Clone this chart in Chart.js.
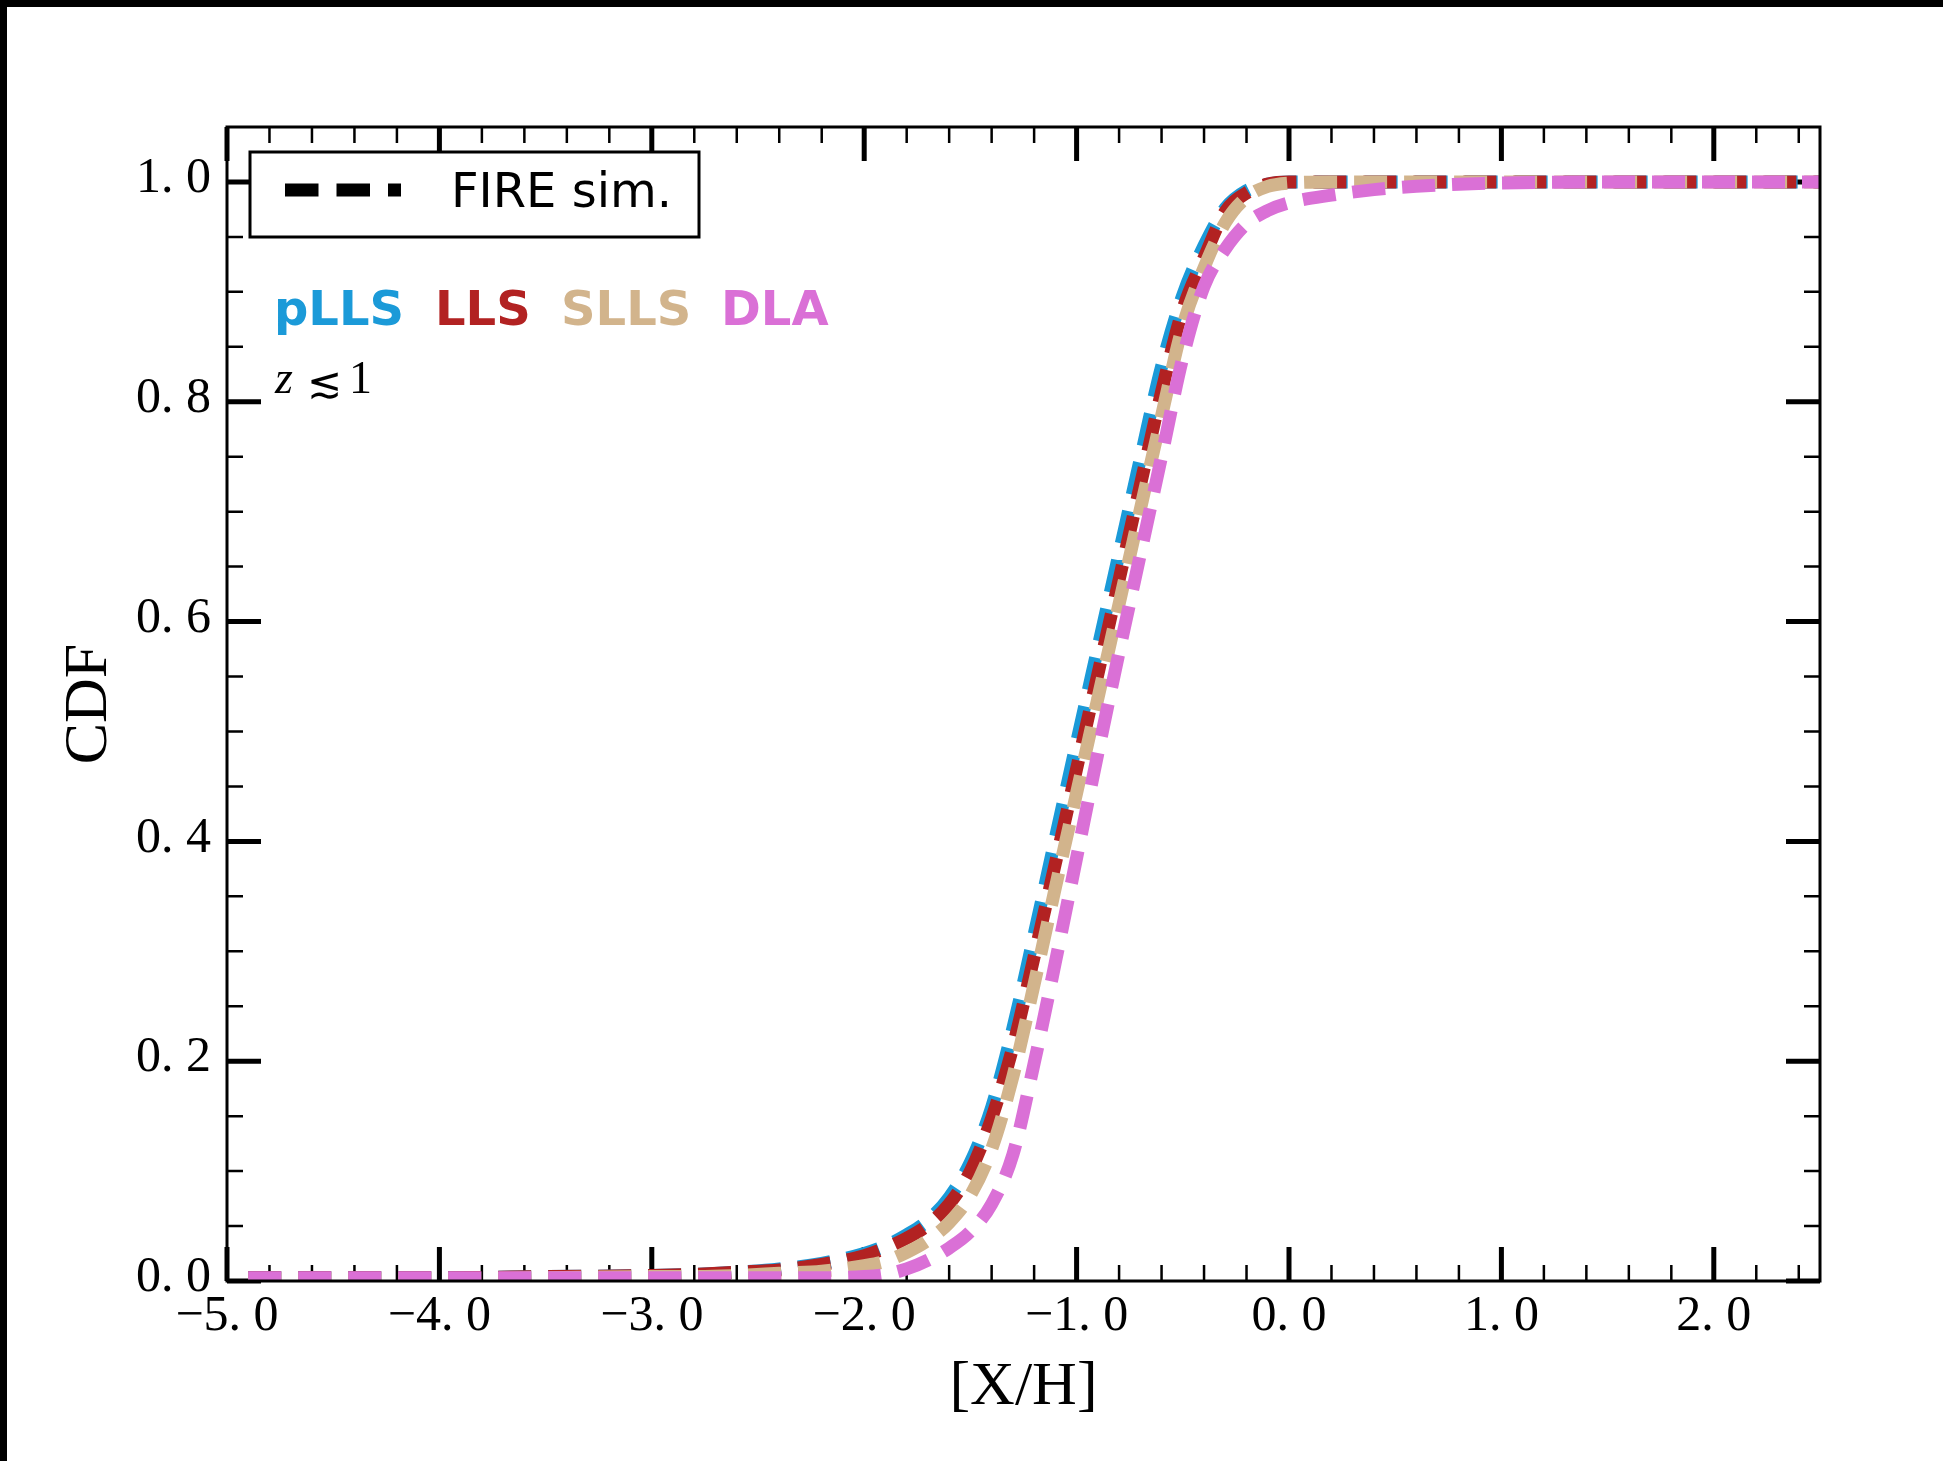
<!DOCTYPE html>
<html lang="en">
<head>
<meta charset="UTF-8" />
<title>CDF of [X/H]</title>
<script src="https://cdn.jsdelivr.net/npm/chart.js"></script>
<style>
  html, body { margin: 0; padding: 0; background: #000; }
  .frame {
    position: absolute;
    left: 7px;
    top: 7px;
    width: 1936px;
    height: 1454px;
    background: #fff;
  }
</style>
</head>
<body>
<div class="frame"><canvas id="cdfChart"></canvas></div>
<script>
// [X/H] sample points shared by all curves
const xValues = [-4.9, -4.5, -4.0, -3.5, -3.0, -2.8, -2.6, -2.4, -2.2, -2.0,
  -1.9, -1.8, -1.7, -1.6, -1.5, -1.4, -1.3, -1.2, -1.1, -1.0,
  -0.9, -0.8, -0.7, -0.6, -0.5, -0.4, -0.3, -0.2, -0.1, 0.0,
  0.2, 0.4, 0.6, 0.8, 1.0, 1.5, 2.0, 2.5];

const pllsCdf = [0.003, 0.003, 0.003, 0.004, 0.005, 0.006, 0.008, 0.011, 0.016, 0.025,
  0.032, 0.042, 0.055, 0.076, 0.108, 0.158, 0.230, 0.315, 0.403, 0.490,
  0.576, 0.662, 0.748, 0.832, 0.897, 0.942, 0.976, 0.992, 0.998, 1.0,
  1.0, 1.0, 1.0, 1.0, 1.0, 1.0, 1.0, 1.0];

const llsCdf = [0.003, 0.003, 0.003, 0.004, 0.005, 0.006, 0.008, 0.010, 0.015, 0.023,
  0.030, 0.039, 0.051, 0.070, 0.100, 0.148, 0.213, 0.295, 0.380, 0.466,
  0.552, 0.638, 0.724, 0.809, 0.884, 0.931, 0.973, 0.990, 0.998, 1.0,
  1.0, 1.0, 1.0, 1.0, 1.0, 1.0, 1.0, 1.0];

const sllsCdf = [0.002, 0.002, 0.002, 0.003, 0.004, 0.004, 0.005, 0.007, 0.009, 0.014,
  0.018, 0.026, 0.037, 0.053, 0.078, 0.120, 0.186, 0.270, 0.358, 0.444,
  0.530, 0.616, 0.702, 0.787, 0.869, 0.922, 0.963, 0.986, 0.996, 0.999,
  1.0, 1.0, 1.0, 1.0, 1.0, 1.0, 1.0, 1.0];

const dlaCdf = [0.003, 0.003, 0.003, 0.003, 0.003, 0.003, 0.003, 0.003, 0.003, 0.004,
  0.006, 0.011, 0.019, 0.030, 0.045, 0.070, 0.115, 0.198, 0.290, 0.385,
  0.480, 0.572, 0.661, 0.750, 0.840, 0.905, 0.939, 0.962, 0.974, 0.981,
  0.988, 0.993, 0.996, 0.998, 0.999, 1.0, 1.0, 1.0];

const seriesNames = ["pLLS", "LLS", "SLLS", "DLA"];
const seriesColors = ["#1b9ad8", "#b22222", "#d2b48c", "#da70d6"];

const xTicks = [-5, -4, -3, -2, -1, 0, 1, 2];
const xTickLabels = ["\u22125. 0", "\u22124. 0", "\u22123. 0", "\u22122. 0", "\u22121. 0", "0. 0", "1. 0", "2. 0"];
const yTicks = [0, 0.2, 0.4, 0.6, 0.8, 1.0];
const yTickLabels = ["0. 0", "0. 2", "0. 4", "0. 6", "0. 8", "1. 0"];

const serif = "'Liberation Serif', 'Times New Roman', serif";
const sans = "'DejaVu Sans', sans-serif";

function toPoints(ys) {
  return xValues.map((x, i) => ({ x: x, y: ys[i] }));
}

// inward tick marks on all four sides, under the curves
const tickMarks = {
  id: "tickMarks",
  beforeDatasetsDraw(chart) {
    const { ctx, chartArea: a, scales } = chart;
    const xs = scales.x, ys = scales.y;
    ctx.save();
    ctx.strokeStyle = "#000";
    ctx.lineCap = "butt";

    function xTick(v, len, w) {
      const px = xs.getPixelForValue(v);
      ctx.lineWidth = w;
      ctx.beginPath();
      ctx.moveTo(px, a.bottom); ctx.lineTo(px, a.bottom - len);
      ctx.moveTo(px, a.top); ctx.lineTo(px, a.top + len);
      ctx.stroke();
    }
    function yTick(v, len, w) {
      const py = ys.getPixelForValue(v);
      ctx.lineWidth = w;
      ctx.beginPath();
      ctx.moveTo(a.left, py); ctx.lineTo(a.left + len, py);
      ctx.moveTo(a.right, py); ctx.lineTo(a.right - len, py);
      ctx.stroke();
    }

    for (let i = 0; i <= 37; i++) {
      if (i % 5 !== 0) xTick(-5 + i * 0.2, 16, 2.5);
    }
    for (let i = 0; i <= 20; i++) {
      if (i % 4 !== 0) yTick(i * 0.05, 16, 2.5);
    }
    xTicks.forEach(v => xTick(v, 34, 5));
    yTicks.forEach(v => yTick(v, 34, 5));
    ctx.restore();
  }
};

// frame, legend box and text labels on top
const axesDecor = {
  id: "axesDecor",
  afterDatasetsDraw(chart) {
    const { ctx, chartArea: a } = chart;
    ctx.save();
    ctx.strokeStyle = "#000";
    ctx.lineWidth = 3;
    ctx.strokeRect(a.left, a.top, a.right - a.left, a.bottom - a.top);

    // legend box
    const bx = a.left + 23, by = a.top + 25;
    ctx.fillStyle = "#fff";
    ctx.fillRect(bx, by, 449, 85);
    ctx.strokeRect(bx, by, 449, 85);
    ctx.lineWidth = 13;
    ctx.lineCap = "butt";
    ctx.setLineDash([33.5, 18]);
    ctx.beginPath();
    ctx.moveTo(a.left + 58, a.top + 63);
    ctx.lineTo(a.left + 174, a.top + 63);
    ctx.stroke();
    ctx.setLineDash([]);
    ctx.fillStyle = "#000";
    ctx.font = "48px " + sans;
    ctx.textBaseline = "alphabetic";
    ctx.textAlign = "left";
    ctx.fillText("FIRE sim.", a.left + 224, a.top + 80);

    // coloured sample names
    const nameX = [47, 208, 334, 494];
    ctx.font = "bold 48px " + sans;
    seriesNames.forEach((n, i) => {
      ctx.fillStyle = seriesColors[i];
      ctx.fillText(n, a.left + nameX[i], a.top + 198);
    });

    // redshift note
    ctx.fillStyle = "#000";
    ctx.font = "italic 46px " + serif;
    ctx.fillText("z", a.left + 48, a.top + 266);
    ctx.font = "42px 'DejaVu Serif', serif";
    ctx.fillText("\u2272", a.left + 80, a.top + 270);
    ctx.font = "46px " + serif;
    ctx.fillText("1", a.left + 122, a.top + 266);
    ctx.restore();
  }
};

const datasets = [pllsCdf, llsCdf, sllsCdf, dlaCdf].map((ys, i) => ({
  label: seriesNames[i],
  data: toPoints(ys),
  borderColor: seriesColors[i],
  borderWidth: 13,
  borderDash: [33, 17],
  borderCapStyle: "butt",
  pointRadius: 0,
  fill: false,
  cubicInterpolationMode: "monotone",
  clip: 0,
  order: 4 - i
}));

new Chart(document.getElementById("cdfChart"), {
  type: "line",
  data: { datasets: datasets },
  options: {
    responsive: true,
    maintainAspectRatio: false,
    animation: false,
    devicePixelRatio: 1,
    layout: { padding: { left: 0, right: 123, top: 120, bottom: 0 } },
    plugins: { legend: { display: false }, tooltip: { enabled: false } },
    scales: {
      x: {
        type: "linear",
        min: -5,
        max: 2.5,
        afterBuildTicks: s => { s.ticks = xTicks.map(v => ({ value: v })); },
        afterFit: s => { s.height = 180; },
        grid: { display: false, drawTicks: false },
        border: { display: false },
        ticks: {
          padding: 6,
          color: "#000",
          maxRotation: 0,
          autoSkip: false,
          font: { family: serif, size: 50 },
          callback: (v, i) => xTickLabels[i]
        },
        title: {
          display: true,
          text: "[X/H]",
          color: "#000",
          font: { family: serif, size: 62 },
          padding: { top: 0, bottom: 36 }
        }
      },
      y: {
        type: "linear",
        min: 0,
        max: 1.05,
        afterBuildTicks: s => { s.ticks = yTicks.map(v => ({ value: v })); },
        afterFit: s => { s.width = 220; },
        grid: { display: false, drawTicks: false },
        border: { display: false },
        ticks: {
          padding: 16,
          labelOffset: -3,
          color: "#000",
          font: { family: serif, size: 50 },
          callback: (v, i) => yTickLabels[i]
        },
        title: {
          display: true,
          text: "CDF",
          color: "#000",
          font: { family: serif, size: 62 },
          padding: { top: 46, bottom: 0 }
        }
      }
    }
  },
  plugins: [tickMarks, axesDecor]
});
</script>
</body>
</html>
